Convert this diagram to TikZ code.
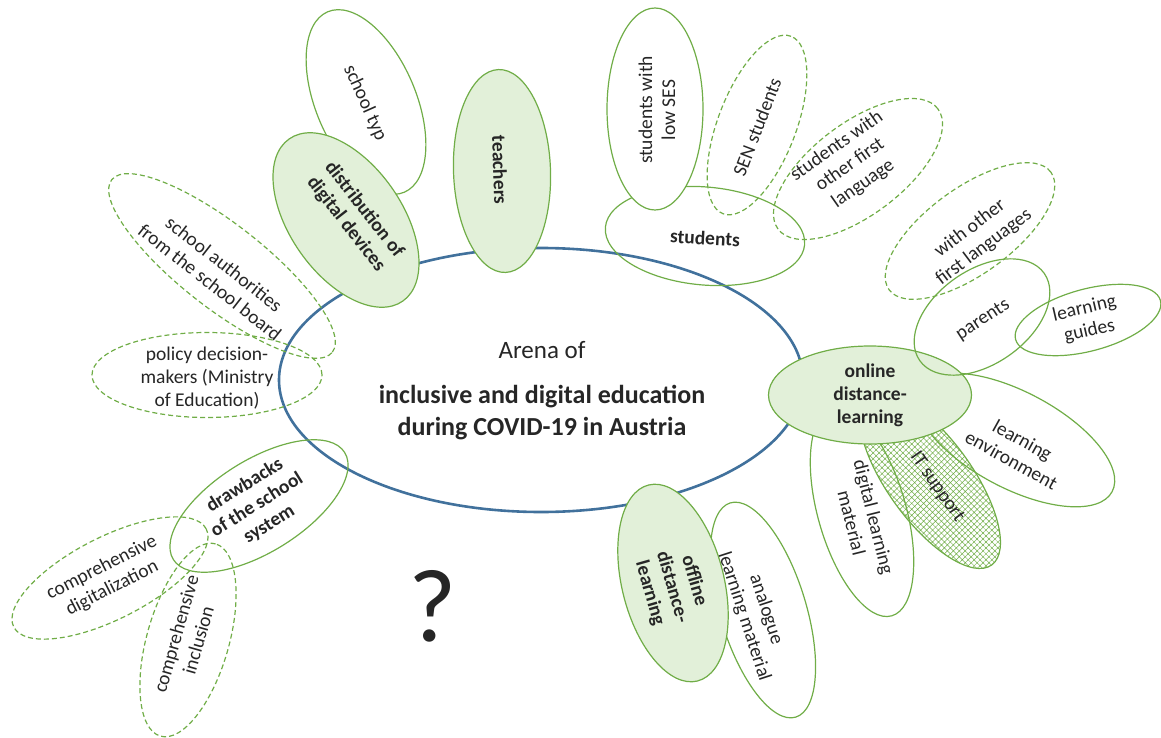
\documentclass[tikz,border=0pt]{standalone}
\usepackage{fontspec}
\setmainfont{Carlito}
\usetikzlibrary{shapes.geometric,patterns.meta}
\definecolor{gline}{HTML}{70AD47}
\definecolor{gfill}{HTML}{E2F0D9}
\definecolor{bline}{HTML}{41719C}
\definecolor{txtc}{HTML}{262626}
\begin{document}
\begin{tikzpicture}[x=1pt,y=-1pt,
  leaf/.style={ellipse, draw=gline, line width=1.2pt, inner sep=0pt},
  dleaf/.style={leaf, dash pattern=on 5pt off 3pt},
  core/.style={leaf, fill=gfill},
  sz/.style 2 args={minimum width=#1pt, minimum height=#2pt},
  lbl/.style={align=center, font=\fontsize{19.5}{23}\selectfont, text=txtc, inner sep=0pt},
  blbl/.style={align=center, font=\fontsize{19.5}{23}\selectfont\bfseries, text=txtc, inner sep=0pt}
]
\useasboundingbox (0,0) rectangle (1161,738);

% central arena
\node[ellipse, draw=bline, line width=2.6pt, inner sep=0pt, sz={524}{264}] (arena) at (541,380) {};
\node[font=\fontsize{25}{30}\selectfont, text=txtc, inner sep=0pt] (arenaA) at (542,350) {Arena of};
\node[align=center, font=\fontsize{26}{32}\selectfont\bfseries, text=txtc, inner sep=0pt] (arenaB) at (542,413) {inclusive and digital education\\during COVID-19 in Austria};

% outline leaves (below green ones)
\node[leaf, sz={196}{100}, rotate=-67] (typ) at (366,102) {};
\node[leaf, sz={200}{98}, rotate=-5] (stud) at (705,236) {};
\node[leaf, fill=white, sz={202}{96}, rotate=90] (lowses) at (655,109) {};
\node[dleaf, sz={190}{78}, rotate=69] (sen) at (757,125) {};
\node[dleaf, sz={200}{92}, rotate=37] (sofl) at (858,169) {};
\node[dleaf, sz={200}{86}, rotate=36] (wofl) at (970,231) {};
\node[leaf, sz={220}{96}, rotate=-28] (lenv) at (1015,440) {};
\node[leaf, sz={216}{88}, rotate=-74] (dlm) at (862,512) {};
\node[leaf, sz={210}{84}, rotate=-54, pattern={Hatch[angle=45,distance=4.2pt,line width=0.5pt]}, pattern color=gline] (itsup) at (930,480) {};
\node[leaf, sz={224}{86}, rotate=-73] (analog) at (763,610) {};
\node[leaf, sz={202}{92}, rotate=32] (drawb) at (259,506) {};
\node[dleaf, sz={216}{82}, rotate=27] (cdig) at (110,578) {};
\node[dleaf, sz={200}{82}, rotate=74] (cinc) at (188,640) {};
\node[dleaf, sz={280}{84}, rotate=-38] (auth) at (222,266) {};
\node[dleaf, sz={230}{85}] (policy) at (207,375) {};

% green core ellipses
\node[core, sz={198}{112}, rotate=-55] (dist) at (346,220) {};
\node[core, sz={203}{97}, rotate=-88] (teach) at (502,171) {};
\node[core, sz={203}{98}] (online) at (870,395) {};
\node[core, sz={202}{102}, rotate=-76] (offline) at (673,583) {};

% leaves on top
\node[leaf, sz={152}{94}, rotate=35] (parents) at (982,317) {};
\node[leaf, sz={150}{62}, rotate=15] (guides) at (1088,320) {};

% labels
\node[lbl, rotate=-66] (typT) at (365,103) {school typ};
\node[blbl, rotate=-52] (distT) at (355,217) {distribution of\\digital devices};
\node[blbl, rotate=-88] (teachT) at (500,170) {teachers};
\node[lbl, rotate=90] (lowsesT) at (657,110) {students with\\low SES};
\node[lbl, rotate=69] (senT) at (757,127) {SEN students};
\node[lbl, rotate=35] (soflT) at (850,165) {students with\\other first\\language};
\node[blbl, rotate=-3] (studT) at (705,238) {students};
\node[lbl, rotate=37] (woflT) at (977,238) {with other\\first languages};
\node[lbl, rotate=33] (parentsT) at (983,320) {parents};
\node[lbl, rotate=13] (guidesT) at (1087,320) {learning\\guides};
\node[blbl] (onlineT) at (870,395) {online\\distance-\\learning};
\node[lbl, rotate=-29] (lenvT) at (1017,450) {learning\\environment};
\node[lbl, rotate=-55] (itsupT) at (937,487) {IT support};
\node[lbl, rotate=-76] (dlmT) at (863,520) {digital learning\\material};
\node[blbl, rotate=-74] (offlineT) at (672,587) {offline\\distance-\\learning};
\node[lbl, rotate=-72] (analogT) at (755,613) {analogue\\learning material};
\node[blbl, rotate=32] (drawbT) at (257,505) {drawbacks\\of the school\\system};
\node[lbl, rotate=27] (cdigT) at (107,578) {comprehensive\\digitalization};
\node[lbl, rotate=74] (cincT) at (187,637) {comprehensive\\inclusion};
\node[lbl, rotate=-38] (authT) at (217,273) {school authorities\\from the school board};
\node[lbl] (policyT) at (207,378) {policy decision-\\makers (Ministry\\of Education)};

\node[font=\fontsize{104}{110}\selectfont, text=txtc, inner sep=0pt] (q) at (433,606) {?};
\end{tikzpicture}
\end{document}
